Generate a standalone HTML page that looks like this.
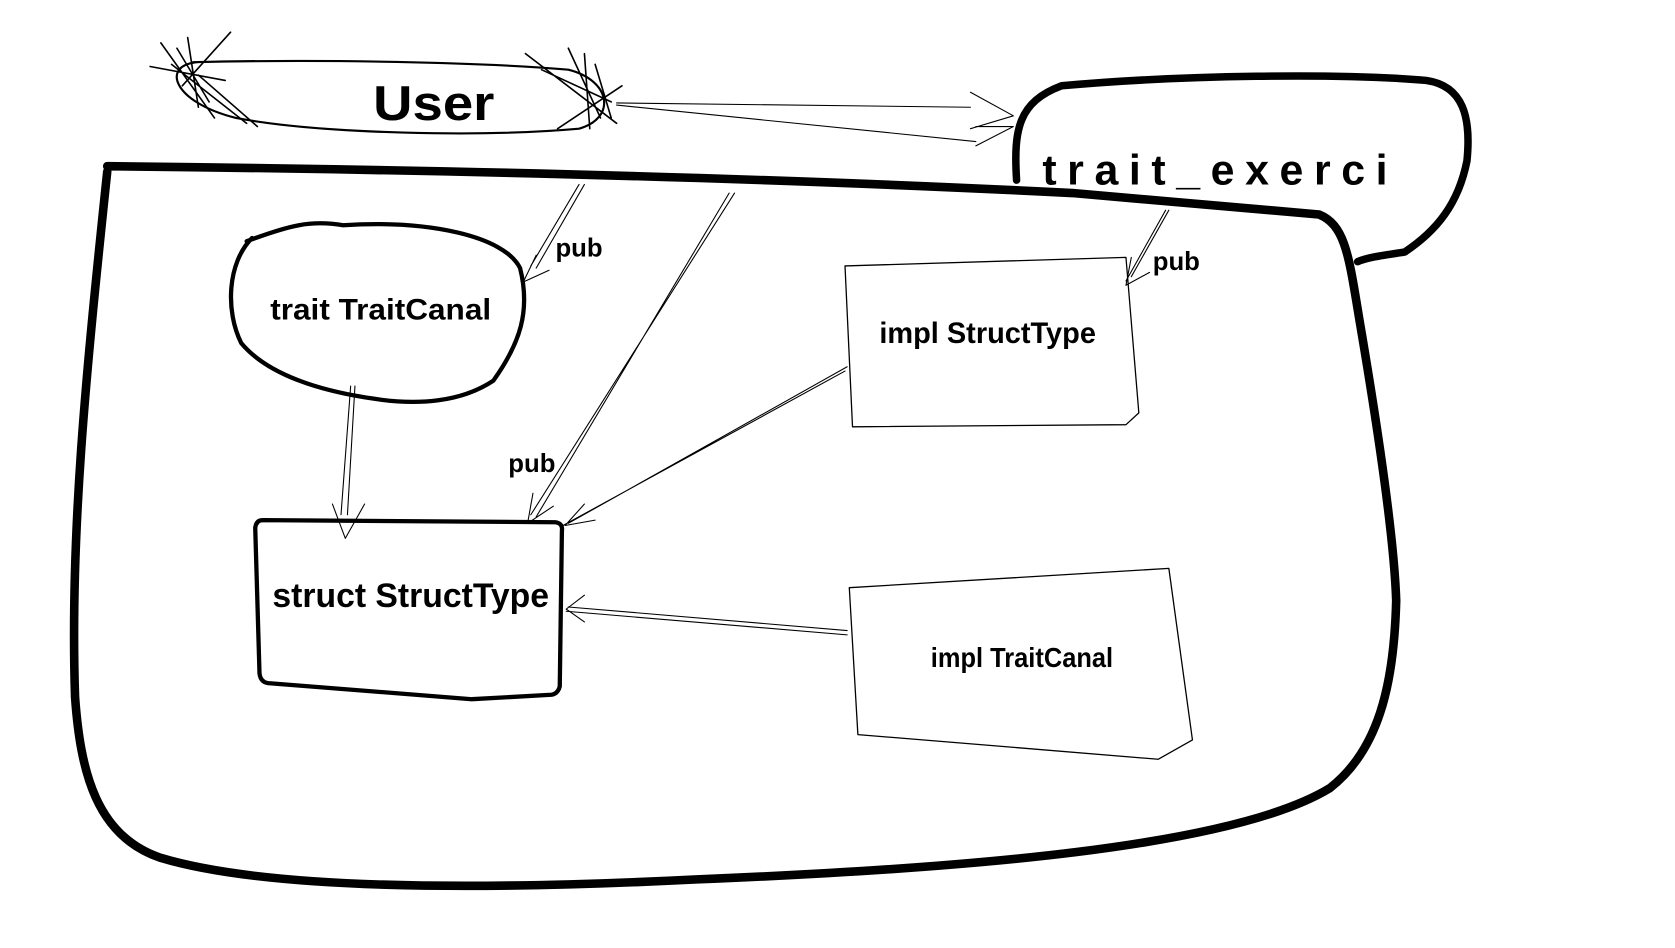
<!DOCTYPE html>
<html><head><meta charset="utf-8"><style>
html,body{margin:0;padding:0;background:#fff;}
svg{display:block}
text{font-family:"Liberation Sans",sans-serif;font-weight:bold;fill:#000}
</style></head><body>
<svg width="1675" height="948" viewBox="0 0 1562 884" preserveAspectRatio="none" xmlns="http://www.w3.org/2000/svg">
<g fill="none" stroke="#000" stroke-linecap="round" stroke-linejoin="round">
<path d="M948 168 C945 120 950 95 990 80 C1100 70 1250 68 1330 75 C1365 80 1372 110 1368 150 C1360 190 1340 215 1310 235 C1290 238 1275 240 1266 244" stroke-width="7"/>
<path d="M100 155 C400 158 700 165 1000 180 C1100 188 1180 195 1230 200 C1255 210 1258 240 1268 300 C1285 400 1300 500 1302 560 C1300 640 1285 700 1240 735 C1150 790 900 810 650 820 C450 830 250 830 150 800 C90 780 75 720 70 650 C65 500 80 350 100 160" stroke-width="8"/>
<path d="M180 58 C300 55 450 58 530 65 C570 75 575 110 540 120 C450 128 300 125 220 110 C160 95 150 60 185 58" stroke-width="2"/>
<path d="M150 40 L200 110 M160 60 L230 115 M140 62 L210 75 M175 35 L185 100 M215 30 L170 80 M490 50 L575 115 M530 45 L560 110 M580 80 L520 120 M505 65 L570 95 M545 50 L550 120 M165 45 L195 95 M185 70 L240 118 M555 60 L570 110" stroke-width="1.5"/>
<path d="M230 225 C270 210 290 205 320 210 C400 205 470 220 485 250 C495 290 485 320 460 355 C430 375 390 378 350 372 C300 365 250 350 225 320 C210 290 212 245 235 222" stroke-width="4"/>
<path d="M245 485 L518 487 Q525 488 524 495 L522 640 Q520 648 512 648 L440 652 L250 637 Q243 636 242 628 L238 492 Q239 485 245 485 Z" stroke-width="4"/>
<path d="M788 248 L1050 240 L1062 385 L1050 396 L795 398 Z" stroke-width="1.2"/>
<path d="M792 548 L1090 530 L1112 690 L1080 708 L800 685 Z" stroke-width="1.2"/>
<g stroke-width="1">
<path d="M575 96 L905 100 M575 98 L910 132 M905 86 L945 108 L905 120 M910 118 L945 118 L910 136"/>
<path d="M545 172 L500 250 M540 172 L495 248 M488 263 L500 238 M488 263 L512 252"/>
<path d="M685 180 L495 480 M680 180 L500 482 M492 488 L497 460 M492 488 L516 472"/>
<path d="M327 360 L318 480 M331 360 L324 480 M310 470 L322 502 L340 470"/>
<path d="M790 342 L530 488 M788 346 L525 490 M527 490 L545 470 M527 490 L555 485"/>
<path d="M790 588 L530 566 M790 592 L528 570 M528 568 L545 555 M528 568 L545 580"/>
<path d="M1090 196 L1055 258 M1087 196 L1050 262 M1050 266 L1055 240 M1050 266 L1072 254"/>
</g>
</g>
<text x="348" y="112" font-size="46" textLength="113" lengthAdjust="spacingAndGlyphs">User</text>
<text x="972" y="172" font-size="40" textLength="322" lengthAdjust="spacing">trait_exerci</text>
<text x="252" y="298" font-size="28" textLength="206" lengthAdjust="spacingAndGlyphs">trait TraitCanal</text>
<text x="254" y="566" font-size="32" textLength="258" lengthAdjust="spacingAndGlyphs">struct StructType</text>
<text x="820" y="320" font-size="28" textLength="202" lengthAdjust="spacingAndGlyphs">impl StructType</text>
<text x="868" y="622" font-size="26" textLength="170" lengthAdjust="spacingAndGlyphs">impl TraitCanal</text>
<text x="518" y="239" font-size="24">pub</text>
<text x="474" y="440" font-size="24">pub</text>
<text x="1075" y="252" font-size="24">pub</text>
</svg>
</body></html>
